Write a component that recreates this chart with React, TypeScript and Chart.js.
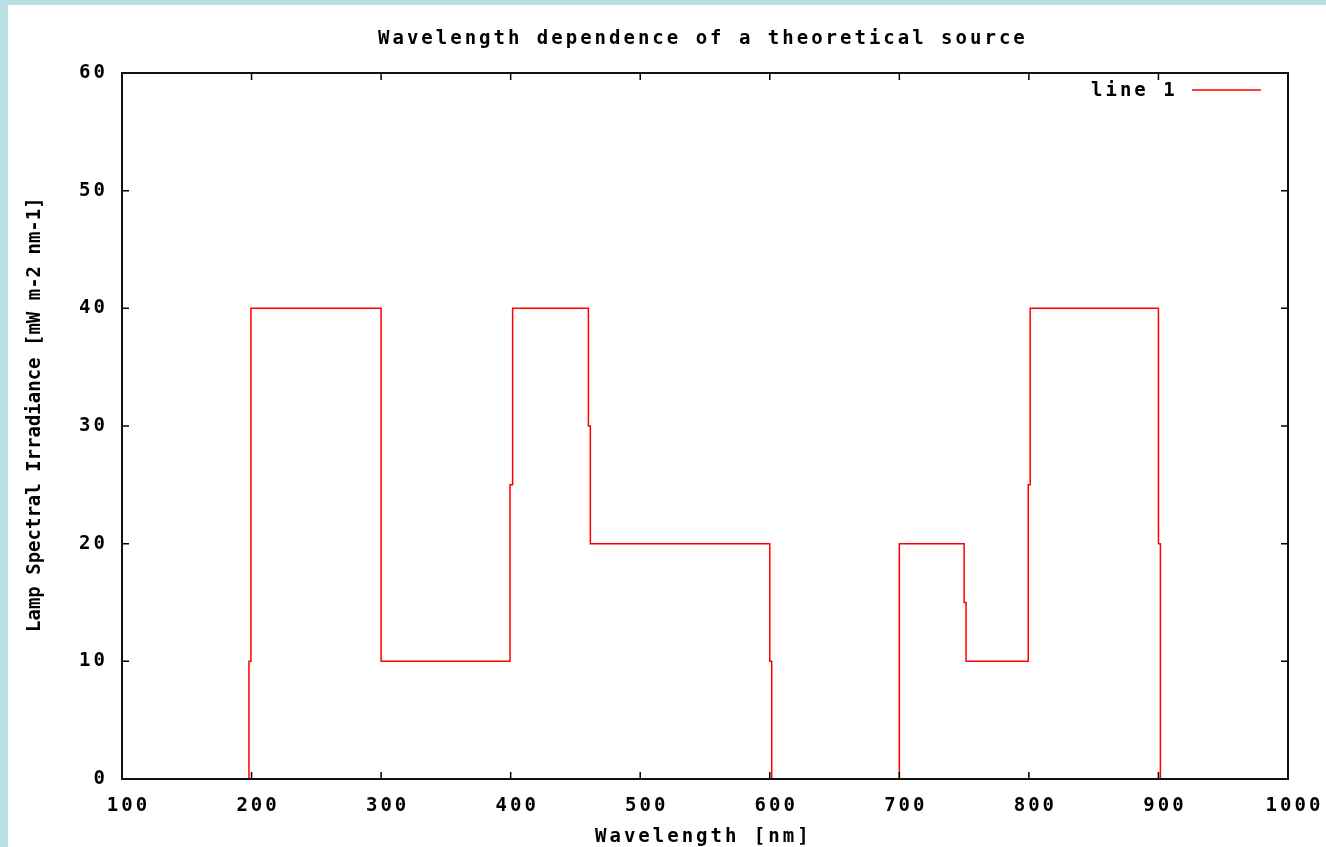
import React, { useEffect, useRef } from 'react';
import { Chart, registerables } from 'chart.js';

Chart.register(...registerables);

const chartTitle = 'Wavelength dependence of a theoretical source';
const xAxisTitle = 'Wavelength [nm]';
const yAxisTitle = 'Lamp Spectral Irradiance [mW m-2 nm-1]';
const seriesLabel = 'line 1';

const wavelengths = [
  198, 198, 199.5, 199.5, 300, 300, 399.5, 399.5, 401.5, 401.5,
  460, 460, 461.5, 461.5, 600, 600, 601.5, 601.5, 700, 700,
  750, 750, 751.5, 751.5, 799.5, 799.5, 801, 801, 900, 900, 901.5, 901.5,
];
const irradiance = [
  0, 10, 10, 40, 40, 10, 10, 25, 25, 40,
  40, 30, 30, 20, 20, 10, 10, 0, 0, 20,
  20, 15, 15, 10, 10, 25, 25, 40, 40, 20, 20, 0,
];

const xTickValues = [100, 200, 300, 400, 500, 600, 700, 800, 900, 1000];
const yTickValues = [0, 10, 20, 30, 40, 50, 60];

const FONT = 'bold 19px "DejaVu Sans Mono"';
const SPACING = '3px';

const gnuplotDecor = {
  id: 'gnuplotDecor',
  beforeUpdate(chart: any) {
    chart.ctx.letterSpacing = SPACING;
  },
  beforeDraw(chart: any) {
    chart.ctx.letterSpacing = SPACING;
  },
  afterDraw(chart: any) {
    const { ctx, chartArea: a, scales } = chart;
    ctx.save();
    ctx.strokeStyle = '#000';
    ctx.lineWidth = 1.5;
    const tl = 7;
    ctx.beginPath();
    scales.x.ticks.forEach((t: any) => {
      const px = scales.x.getPixelForValue(t.value);
      ctx.moveTo(px, a.bottom);
      ctx.lineTo(px, a.bottom - tl);
      ctx.moveTo(px, a.top);
      ctx.lineTo(px, a.top + tl);
    });
    scales.y.ticks.forEach((t: any) => {
      const py = scales.y.getPixelForValue(t.value);
      ctx.moveTo(a.left, py);
      ctx.lineTo(a.left + tl, py);
      ctx.moveTo(a.right, py);
      ctx.lineTo(a.right - tl, py);
    });
    ctx.stroke();
    ctx.lineWidth = 2;
    ctx.strokeStyle = '#111';
    ctx.strokeRect(a.left, a.top, a.right - a.left, a.bottom - a.top);

    ctx.fillStyle = '#000';
    ctx.font = FONT;
    ctx.letterSpacing = SPACING;
    ctx.textBaseline = 'middle';
    ctx.textAlign = 'left';
    ctx.fillText(chartTitle, 370, 34);
    ctx.fillText(xAxisTitle, 587, 832);

    // legend
    const ds = chart.data.datasets[0];
    ctx.fillText(ds.label, 1083, 86);
    ctx.strokeStyle = ds.borderColor;
    ctx.lineWidth = 1.5;
    ctx.beginPath();
    ctx.moveTo(1184, 85);
    ctx.lineTo(1253, 85);
    ctx.stroke();

    // y title
    ctx.save();
    ctx.translate(27, 627);
    ctx.rotate(-Math.PI / 2);
    ctx.letterSpacing = '0px';
    ctx.fillText(yAxisTitle, 0, 0);
    ctx.restore();
    ctx.restore();
  },
};

export default function App() {
  const canvasRef = useRef<HTMLCanvasElement | null>(null);

  useEffect(() => {
    document.body.style.margin = '0';
    const canvas = canvasRef.current;
    if (!canvas) return;
    const points = wavelengths.map((x, i) => ({ x, y: irradiance[i] }));
    const tickFont = { family: '"DejaVu Sans Mono"', weight: 'bold' as const, size: 19 };
    const chart = new Chart(canvas, {
      type: 'line',
      data: {
        datasets: [
          {
            label: seriesLabel,
            data: points,
            borderColor: '#ff0000',
            backgroundColor: '#ff0000',
            borderWidth: 1.5,
            pointRadius: 0,
            tension: 0,
            fill: false,
          },
        ],
      },
      options: {
        animation: false,
        responsive: false,
        devicePixelRatio: 1,
        layout: { padding: { top: 68, right: 38, left: 0, bottom: 0 } },
        plugins: {
          legend: { display: false },
          title: { display: false },
          tooltip: { enabled: false },
        },
        scales: {
          x: {
            type: 'linear',
            min: 100,
            max: 1000,
            afterBuildTicks: (s: any) => {
              s.ticks = xTickValues.map((v) => ({ value: v }));
            },
            afterFit: (s: any) => {
              s.height = 68;
              s.paddingLeft = 0;
              s.paddingRight = 0;
            },
            grid: { display: false, drawTicks: false },
            border: { display: false },
            ticks: {
              font: tickFont,
              color: '#000',
              padding: 16,
              labelOffset: 6.5,
              maxRotation: 0,
              autoSkip: false,
              callback: (v: any) => String(v),
            },
          },
          y: {
            type: 'linear',
            min: 0,
            max: 60,
            afterBuildTicks: (s: any) => {
              s.ticks = yTickValues.map((v) => ({ value: v }));
            },
            afterFit: (s: any) => {
              s.width = 114;
              s.paddingTop = 0;
              s.paddingBottom = 0;
            },
            grid: { display: false, drawTicks: false },
            border: { display: false },
            ticks: {
              font: tickFont,
              color: '#000',
              padding: 14,
              autoSkip: false,
              callback: (v: any) => String(v),
            },
          },
        },
      },
      plugins: [gnuplotDecor],
    });
    return () => chart.destroy();
  }, []);

  return (
    <div
      style={{
        width: 1326,
        height: 847,
        boxSizing: 'border-box',
        paddingLeft: 8,
        paddingTop: 5,
        background: '#b8e0e3',
        overflow: 'hidden',
      }}
    >
      <canvas
        ref={canvasRef}
        width={1318}
        height={842}
        style={{ display: 'block', width: 1318, height: 842, background: '#fff' }}
      />
    </div>
  );
}
